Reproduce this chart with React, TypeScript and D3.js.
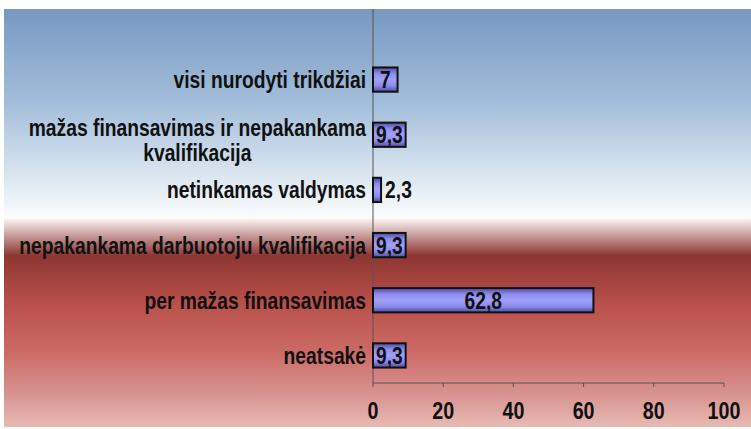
import React, { useEffect, useRef } from 'react';
import * as d3 from 'd3';

const categories = [
  ['visi nurodyti trikdžiai'],
  ['mažas finansavimas ir nepakankama', 'kvalifikacija'],
  ['netinkamas valdymas'],
  ['nepakankama darbuotoju kvalifikacija'],
  ['per mažas finansavimas'],
  ['neatsakė'],
];
const values = [7, 9.3, 2.3, 9.3, 62.8, 9.3];
const ticks = [0, 20, 40, 60, 80, 100];

const W = 751;
const H = 429;
const FONT = '"Liberation Sans", Arial, sans-serif';
const SX = 0.82; // squeeze to mimic a narrow face

const fmt = (v: number) => String(v).replace('.', ',');

const App: React.FC = () => {
  const svgRef = useRef<SVGSVGElement>(null);

  useEffect(() => {
    if (!svgRef.current) return;
    const svg = d3.select(svgRef.current);
    svg.selectAll('*').remove();

    const defs = svg.append('defs');

    // blue upper background
    const blue = defs.append('linearGradient').attr('id', 'bgBlue')
      .attr('x1', 0).attr('y1', 0).attr('x2', 0).attr('y2', 1);
    [['0%', '#7898c0'], ['45%', '#a3bedb'], ['80%', '#dbe6f0'], ['100%', '#fbfcfd']]
      .forEach(([o, c]) => blue.append('stop').attr('offset', o).attr('stop-color', c));

    // red lower background
    const red = defs.append('linearGradient').attr('id', 'bgRed')
      .attr('x1', 0).attr('y1', 0).attr('x2', 0).attr('y2', 1);
    [['0%', '#fdf8f7'], ['8%', '#c9a09e'], ['18%', '#8c3632'], ['40%', '#b84f4a'], ['65%', '#cc6c67'], ['85%', '#d99591'], ['100%', '#e7bab5']]
      .forEach(([o, c]) => red.append('stop').attr('offset', o).attr('stop-color', c));

    // bar fill
    const bar = defs.append('linearGradient').attr('id', 'barFill')
      .attr('x1', 0).attr('y1', 0).attr('x2', 0).attr('y2', 1);
    [['0%', '#4c4ca0'], ['25%', '#8c8cec'], ['50%', '#a0a0fa'], ['75%', '#8c8cec'], ['100%', '#4c4ca0']]
      .forEach(([o, c]) => bar.append('stop').attr('offset', o).attr('stop-color', c));

    svg.append('rect').attr('x', 4).attr('y', 9).attr('width', W - 4).attr('height', 209)
      .attr('fill', 'url(#bgBlue)');
    svg.append('rect').attr('x', 4).attr('y', 218).attr('width', W - 4).attr('height', 209)
      .attr('fill', 'url(#bgRed)');

    const x = d3.scaleLinear().domain([0, 100]).range([373, 724]);
    const y = d3.scaleBand<number>().domain(d3.range(values.length)).range([52, 383]).paddingInner(0.56).paddingOuter(0.28);

    // narrow bold text helper
    const label = (sel: d3.Selection<any, any, any, any>, tx: number, ty: number, txt: string, anchor: string, size: number) => {
      sel.append('g').attr('transform', `translate(${tx},${ty}) scale(${SX},1)`)
        .append('text')
        .attr('text-anchor', anchor)
        .attr('dy', '0.36em')
        .style('font-family', FONT).style('font-weight', 'bold').style('font-size', `${size}px`)
        .attr('fill', '#111')
        .text(txt);
    };

    // axes
    const g = svg.append('g');
    g.append('line').attr('x1', x(0)).attr('x2', x(0)).attr('y1', 9).attr('y2', 383)
      .attr('stroke', '#555').attr('stroke-width', 1);
    g.append('line').attr('x1', x(0)).attr('x2', x(100)).attr('y1', 383).attr('y2', 383)
      .attr('stroke', '#555').attr('stroke-width', 1);
    g.selectAll('line.tick').data(ticks).enter().append('line').attr('class', 'tick')
      .attr('x1', d => x(d)).attr('x2', d => x(d)).attr('y1', 383).attr('y2', 387)
      .attr('stroke', '#555');
    ticks.forEach(t => label(g, x(t), 410, String(t), 'middle', 24));

    // bars
    svg.selectAll('rect.bar').data(values).enter().append('rect').attr('class', 'bar')
      .attr('x', x(0))
      .attr('y', (_, i) => y(i)!)
      .attr('width', d => x(d) - x(0))
      .attr('height', y.bandwidth())
      .attr('fill', 'url(#barFill)')
      .attr('stroke', '#111').attr('stroke-width', 2);

    // value labels
    const vg = svg.append('g');
    values.forEach((d, i) => {
      const cy = y(i)! + y.bandwidth() / 2;
      if (d < 5) label(vg, x(d) + 4, cy, fmt(d), 'start', 23.5);
      else label(vg, (x(0) + x(d)) / 2, cy, fmt(d), 'middle', 23.5);
    });

    // category labels
    const cg = svg.append('g');
    const lh = 25;
    const fs = 23.5;
    categories.forEach((lines, i) => {
      const cy = y(i)! + y.bandwidth() / 2;
      if (lines.length === 1) {
        label(cg, 366, cy, lines[0], 'end', fs);
      } else {
        // widest line sets the block; lines centred within it
        const probe = cg.append('text').style('font-family', FONT).style('font-weight', 'bold')
          .style('font-size', `${fs}px`).text(lines[0]);
        const wMax = (probe.node() as SVGTextElement).getComputedTextLength() * SX;
        probe.remove();
        const y0 = cy - 7;
        lines.forEach((l, k) => label(cg, 366 - wMax / 2, y0 + k * lh, l, 'middle', fs));
      }
    });
  }, []);

  return (
    <div style={{ position: 'absolute', left: 0, top: 0, width: W, height: H, background: '#fff' }}>
      <svg ref={svgRef} width={W} height={H} style={{ display: 'block' }} />
    </div>
  );
};

export default App;
